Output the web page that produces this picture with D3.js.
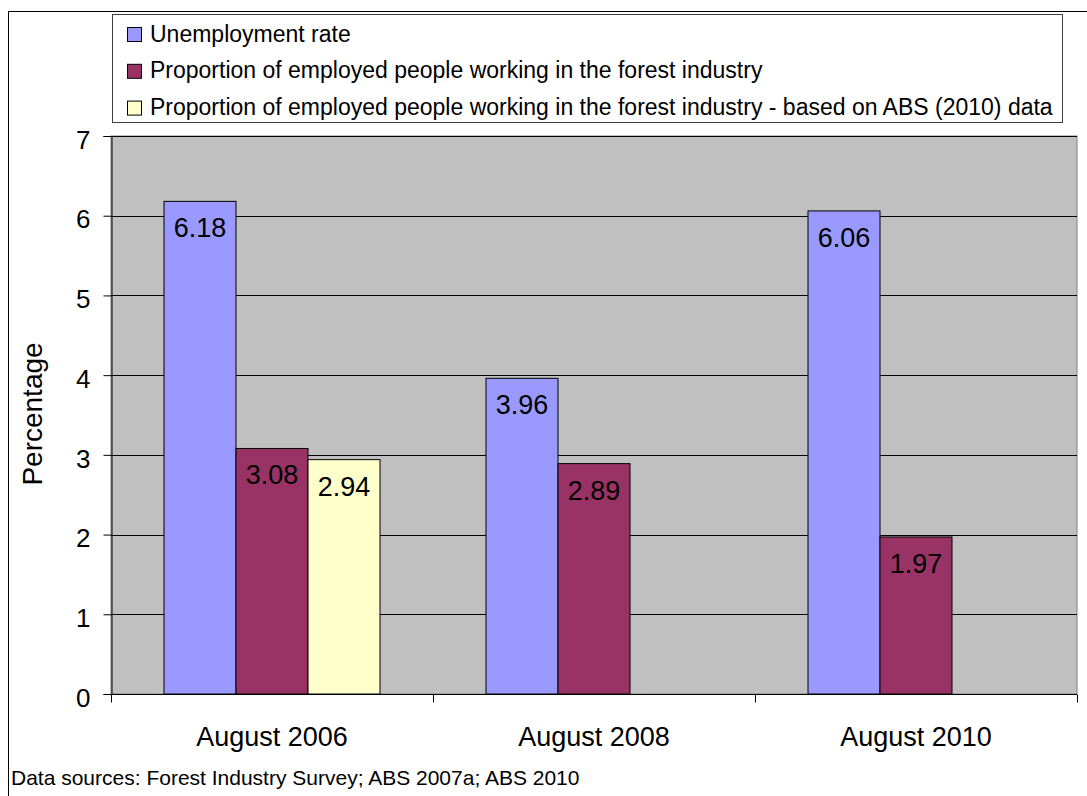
<!DOCTYPE html>
<html><head><meta charset="utf-8">
<script src="https://cdn.jsdelivr.net/npm/d3@7"></script>
<style>body{margin:0;background:#fff;} svg{display:block;font-family:Arial,"Liberation Sans",sans-serif;}</style>
</head><body>
<svg id="c" width="1087" height="796"></svg>
<script>
const categories = ["August 2006", "August 2008", "August 2010"];
const seriesNames = [
  "Unemployment rate",
  "Proportion of employed people working in the forest industry",
  "Proportion of employed people working in the forest industry - based on ABS (2010) data"
];
const unemployment = [6.18, 3.96, 6.06];
const forestProportion = [3.08, 2.89, 1.97];
const forestABS2010 = [2.94, null, null];
const seriesColors = ["#9999FF", "#993366", "#FFFFCC"];
const yTicks = [0, 1, 2, 3, 4, 5, 6, 7];
const yLabel = "Percentage";
const footnote = "Data sources: Forest Industry Survey; ABS 2007a; ABS 2010";

const seriesValues = [unemployment, forestProportion, forestABS2010];
const svg = d3.select("#c");

// outer chart border
svg.append("rect").attr("x", 8.5).attr("y", 11.5).attr("width", 1100).attr("height", 800)
  .attr("fill", "#fff").attr("stroke", "#000").attr("stroke-width", 1);

const plot = {left: 111, right: 1077, top: 136, bottom: 694};
const x = d3.scaleBand().domain(categories).range([plot.left, plot.right]).paddingInner(0).paddingOuter(0);
const y = d3.scaleLinear().domain([0, 7]).range([plot.bottom, plot.top]);
const groupFrac = 216 / 322;
const inner = d3.scaleBand().domain(d3.range(3))
  .range([0, x.bandwidth() * groupFrac]);
const groupOffset = (x.bandwidth() - x.bandwidth() * groupFrac) / 2;

// plot background
svg.append("rect").attr("x", plot.left).attr("y", plot.top)
  .attr("width", plot.right - plot.left).attr("height", plot.bottom - plot.top)
  .attr("fill", "#C0C0C0").attr("stroke", "#808080").attr("stroke-width", 1);

// gridlines
svg.append("g").selectAll("line").data(yTicks.filter(d => d > 0)).join("line")
  .attr("x1", plot.left).attr("x2", plot.right)
  .attr("y1", d => Math.round(y(d)) + 0.5).attr("y2", d => Math.round(y(d)) + 0.5)
  .attr("stroke", "#000").attr("stroke-width", 1);

// bars
const barData = [];
categories.forEach((c, i) => seriesValues.forEach((s, j) => {
  if (s[i] != null) barData.push({c, j, v: s[i]});
}));
const bars = svg.append("g");
bars.selectAll("rect").data(barData).join("rect")
  .attr("x", d => x(d.c) + groupOffset + inner(d.j))
  .attr("y", d => y(d.v))
  .attr("width", inner.bandwidth())
  .attr("height", d => plot.bottom - y(d.v))
  .attr("fill", d => seriesColors[d.j])
  .attr("stroke", "#000").attr("stroke-width", 1);
bars.selectAll("text").data(barData).join("text")
  .attr("x", d => x(d.c) + groupOffset + inner(d.j) + inner.bandwidth() / 2)
  .attr("y", d => y(d.v) + 36)
  .attr("text-anchor", "middle").attr("font-size", 27).attr("fill", "#000")
  .text(d => d.v.toFixed(2));

// y axis
const yAxis = d3.axisLeft(y).tickValues(yTicks).tickSize(8).tickPadding(13).tickFormat(d3.format("d"));
const gy = svg.append("g").attr("transform", `translate(${plot.left + 0.5},0)`).call(yAxis);
gy.select(".domain").attr("stroke", "#000");
gy.selectAll(".tick line").attr("stroke", "#000");
gy.selectAll(".tick text").attr("font-size", 26).attr("font-family", "Arial, 'Liberation Sans', sans-serif").attr("fill", "#000").attr("dy", "0.47em");

// x axis
const gx = svg.append("g").attr("transform", `translate(0,${plot.bottom + 0.5})`);
gx.append("line").attr("x1", plot.left).attr("x2", plot.right).attr("stroke", "#000");
const bounds = categories.map(c => x(c)).concat([x(categories[categories.length - 1]) + x.bandwidth()]);
gx.selectAll("line.tk").data(bounds).join("line").attr("class", "tk")
  .attr("x1", d => Math.round(d) + 0.5).attr("x2", d => Math.round(d) + 0.5)
  .attr("y1", 0).attr("y2", 8).attr("stroke", "#000");
gx.selectAll("text").data(categories).join("text")
  .attr("x", d => x(d) + x.bandwidth() / 2).attr("y", 51)
  .attr("text-anchor", "middle").attr("font-size", 27).attr("fill", "#000").text(d => d);

// y label
svg.append("text").attr("transform", `translate(42,414) rotate(-90)`)
  .attr("text-anchor", "middle").attr("font-size", 28).attr("fill", "#000").text(yLabel);

// legend
const lg = svg.append("g");
lg.append("rect").attr("x", 112.5).attr("y", 14.5).attr("width", 950).attr("height", 108)
  .attr("fill", "#fff").attr("stroke", "#404040").attr("stroke-width", 1);
seriesNames.forEach((n, i) => {
  const base = 41.5 + i * 36.8;
  lg.append("rect").attr("x", 127.5).attr("y", base - 14).attr("width", 14).attr("height", 14)
    .attr("fill", seriesColors[i]).attr("stroke", "#000").attr("stroke-width", 1);
  lg.append("text").attr("x", 150).attr("y", base).attr("font-size", 23).attr("fill", "#000").text(n);
});

// footnote
svg.append("text").attr("x", 11).attr("y", 785).attr("font-size", 21).attr("fill", "#000").text(footnote);
</script>
</body></html>
